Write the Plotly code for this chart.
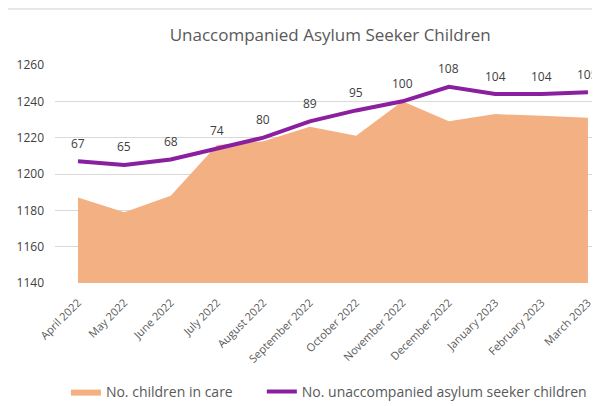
import plotly.graph_objects as go

months = ["April 2022", "May 2022", "June 2022", "July 2022", "August 2022",
          "September 2022", "October 2022", "November 2022", "December 2022",
          "January 2023", "February 2023", "March 2023"]
children_in_care = [1187, 1179, 1188, 1216, 1218, 1226, 1221, 1240, 1229, 1233, 1232, 1231]
uasc = [67, 65, 68, 74, 80, 89, 95, 100, 108, 104, 104, 105]
y_ticks = [1140, 1160, 1180, 1200, 1220, 1240, 1260]

x_idx = list(range(len(months)))

fig = go.Figure()
fig.add_trace(go.Scatter(
    x=x_idx, y=children_in_care, name="No. children in care",
    mode="lines", fill="tozeroy", fillcolor="#F3B083",
    line=dict(color="#F3B083", width=0), hoverinfo="skip", legend="legend"))
fig.add_trace(go.Scatter(
    x=x_idx, y=uasc, name="No. unaccompanied asylum seeker children",
    mode="lines", line=dict(color="#8A1F9F", width=4), yaxis="y2", legend="legend2"))

for xi, v in zip(x_idx, uasc):
    fig.add_annotation(x=xi, y=v, xref="x", yref="y2", text=str(v), showarrow=False,
                       yshift=18, yanchor="middle", xanchor="center",
                       font=dict(family="Open Sans", size=12, color="#404040"))

legend_font = dict(family="Open Sans", size=14, color="#595959")

fig.update_layout(
    width=600, height=414,
    margin=dict(l=47, r=8, t=57, b=139),
    paper_bgcolor="white", plot_bgcolor="white",
    title=dict(text="Unaccompanied Asylum Seeker Children", x=0.537, xanchor="center",
               y=1 - 27 / 414, yanchor="middle", automargin=False,
               font=dict(family="Open Sans", size=17, color="#595959")),
    xaxis=dict(range=[-0.496, 11.26], tickmode="array", tickvals=x_idx, ticktext=months,
               tickangle=-45, showgrid=False, zeroline=False, showline=False,
               automargin=False, ticks="outside", ticklen=8, tickcolor="rgba(0,0,0,0)",
               tickfont=dict(family="Open Sans", size=11, color="#595959")),
    yaxis=dict(range=[1140, 1260], tickvals=y_ticks, showgrid=True, gridcolor="#D9D9D9",
               gridwidth=1, zeroline=False, showline=False, ticklabelstandoff=10,
               automargin=False,
               tickfont=dict(family="Open Sans", size=12, color="#404040")),
    yaxis2=dict(range=[0, 120], overlaying="y", side="right", visible=False,
                automargin=False),
    legend=dict(orientation="h", x=0.02, xanchor="left", y=-0.5, yanchor="middle",
                font=legend_font, itemwidth=30),
    legend2=dict(orientation="h", x=0.985, xanchor="right", y=-0.5, yanchor="middle",
                 font=legend_font, itemwidth=30),
    showlegend=True,
    shapes=[dict(type="line", xref="paper", yref="paper", x0=-0.09, x1=1.02,
                 y0=1.257, y1=1.257, line=dict(color="#D0D0D0", width=1))],
)

fig.write_html("out.html")
